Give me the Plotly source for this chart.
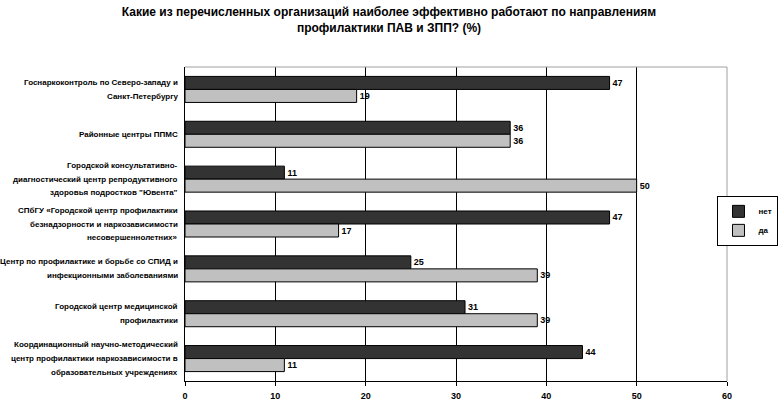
import plotly.graph_objects as go

categories = [
    "Госнаркоконтроль по Северо-западу и<br>Санкт-Петербургу",
    "Районные центры ППМС",
    "Городской консультативно-<br>диагностический центр репродуктивного<br>здоровья подростков \"Ювента\"",
    "СПбГУ «Городской центр профилактики<br>безнадзорности и наркозависимости<br>несовершеннолетних»",
    "Центр по профилактике и борьбе со СПИД и<br>инфекционными заболеваниями",
    "Городской центр медицинской<br>профилактики",
    "Координационный научно-методический<br>центр профилактики наркозависимости в<br>образовательных учреждениях",
]
net_values = [47, 36, 11, 47, 25, 31, 44]
da_values = [19, 36, 50, 17, 39, 39, 11]
series_names = ["нет", "да"]
x_ticks = [0, 10, 20, 30, 40, 50, 60]

FONT = "Liberation Sans, Arial, sans-serif"

fig = go.Figure()
for vals, name, color in [(net_values, series_names[0], "#333333"),
                          (da_values, series_names[1], "#c0c0c0")]:
    fig.add_trace(go.Bar(
        y=categories, x=vals, name=name, orientation="h",
        marker=dict(color=color, line=dict(color="#000000", width=1)),
        text=vals, texttemplate="%{x}", textposition="outside",
        textfont=dict(family=FONT, size=9, color="#000000", weight="bold"),
        cliponaxis=False,
    ))

# category labels, centered multi-line text left of the axis
for cat in categories:
    lines = cat.split("<br>")
    n = len(lines)
    for i, ln in enumerate(lines):
        fig.add_annotation(
            x=-0.01, xref="paper", y=cat, yref="y",
            text=ln, showarrow=False,
            xanchor="right", yanchor="middle", align="center",
            yshift=(-(i - (n - 1) / 2) * 13.8),
            font=dict(family=FONT, size=8, color="#000000", weight="bold"),
        )

fig.update_layout(
    width=778, height=405,
    margin=dict(l=185, r=51, t=67, b=24, autoexpand=False),
    paper_bgcolor="#ffffff", plot_bgcolor="#ffffff",
    barmode="group", bargap=0.42, bargroupgap=0,
    title=dict(
        text="Какие из перечисленных организаций наиболее эффективно работают по направлениям<br>профилактики ПАВ и ЗПП? (%)",
        x=0.5, xanchor="center", y=0.96, yanchor="middle",
        font=dict(family=FONT, size=12, color="#000000", weight="bold"),
    ),
    font=dict(family=FONT, size=8, color="#000000"),
    xaxis=dict(
        range=[0, 60], tickvals=x_ticks,
        showgrid=True, gridcolor="#000000", gridwidth=1,
        showline=True, linecolor="#000000", linewidth=1,
        ticks="outside", ticklen=4, tickcolor="#000000",
        zeroline=False, ticklabelstandoff=2,
        tickfont=dict(family=FONT, size=9, weight="bold"),
    ),
    yaxis=dict(
        autorange="reversed", showticklabels=False,
        showline=True, linecolor="#000000", linewidth=1,
        showgrid=False, zeroline=False, ticks="",
    ),
    legend=dict(
        x=1.095, xanchor="right", y=0.51, yanchor="middle",
        bordercolor="#000000", borderwidth=1, bgcolor="#ffffff",
        font=dict(family=FONT, size=8, weight="bold"), itemwidth=30,
        tracegroupgap=0,
    ),
    showlegend=True,
    shapes=[
        dict(type="line", xref="paper", yref="paper", x0=0, x1=1, y0=1, y1=1,
             line=dict(color="#a0a0a0", width=1), layer="above"),
        dict(type="line", xref="paper", yref="paper", x0=1, x1=1, y0=0, y1=1,
             line=dict(color="#a0a0a0", width=1), layer="above"),
    ],
)

fig.write_html("out.html")
